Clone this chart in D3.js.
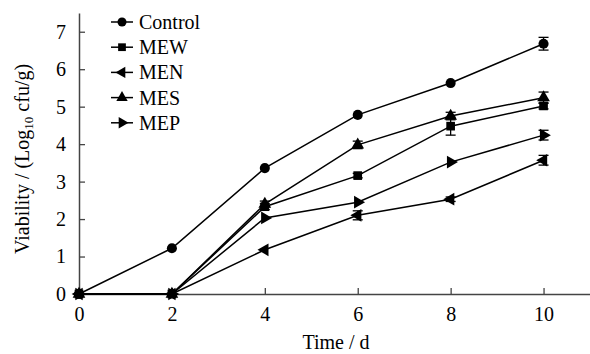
<!DOCTYPE html>
<html>
<head>
<meta charset="utf-8">
<script src="https://cdn.jsdelivr.net/npm/d3@7"></script>
<style>
  html, body { margin: 0; padding: 0; background: #fff; }
</style>
</head>
<body>
<div id="chart"></div>
<script>
// time points (days)
var days = [0, 2, 4, 6, 8, 10];

// viability, log10 cfu/g
var control = [0, 1.22, 3.36, 4.78, 5.63, 6.68];
var mew     = [0, 0, 2.33, 3.16, 4.48, 5.02];
var men     = [0, 0, 1.18, 2.10, 2.53, 3.57];
var mes     = [0, 0, 2.40, 3.98, 4.75, 5.24];
var mep     = [0, 0, 2.03, 2.45, 3.52, 4.24];

// standard deviations
var controlErr = [0, 0.03, 0.04, 0.05, 0.05, 0.17];
var mewErr     = [0, 0, 0.08, 0.06, 0.24, 0.08];
var menErr     = [0, 0, 0.04, 0.12, 0.06, 0.13];
var mesErr     = [0, 0, 0.08, 0.10, 0.10, 0.15];
var mepErr     = [0, 0, 0.05, 0.04, 0.04, 0.13];

var seriesNames = ["Control", "MEW", "MEN", "MES", "MEP"];
var xTicks = [0, 2, 4, 6, 8, 10];
var yTicks = [0, 1, 2, 3, 4, 5, 6, 7];

var FONT = '"Liberation Serif", "Times New Roman", Times, serif';

var series = [
  { name: "Control", values: control, err: controlErr, shape: d3.symbolCircle, rot: 0, size: 80 },
  { name: "MEW", values: mew, err: mewErr, shape: d3.symbolSquare, rot: 0, size: 75 },
  { name: "MEN", values: men, err: menErr, shape: d3.symbolTriangle, rot: -90, size: 70 },
  { name: "MES", values: mes, err: mesErr, shape: d3.symbolTriangle, rot: 0, size: 70 },
  { name: "MEP", values: mep, err: mepErr, shape: d3.symbolTriangle, rot: 90, size: 70 }
];

var W = 590, H = 354;
var margin = { top: 13, right: 0, bottom: 60, left: 79 };
var width = W - margin.left - margin.right;
var height = H - margin.top - margin.bottom;

var svg = d3.select("#chart").append("svg")
  .attr("width", W)
  .attr("height", H);

var g = svg.append("g")
  .attr("transform", "translate(" + margin.left + "," + margin.top + ")");

var x = d3.scaleLinear().domain([0, 11]).range([0, width]);
var y = d3.scaleLinear().domain([0, 7.5]).range([height, 0]);

// axes, ticks pointing inward
var xAxis = g.append("g")
  .attr("transform", "translate(0," + height + ")")
  .call(d3.axisBottom(x).tickValues(xTicks).tickSizeInner(-6).tickSizeOuter(0).tickPadding(10));

var yAxis = g.append("g")
  .call(d3.axisLeft(y).tickValues(yTicks).tickSizeInner(-6).tickSizeOuter(0).tickPadding(13));

[xAxis, yAxis].forEach(function(a) {
  a.attr("font-family", null);
  a.select(".domain").attr("stroke", "#444").attr("stroke-width", 1.5);
  a.selectAll(".tick line").attr("stroke", "#444").attr("stroke-width", 1.3);
  a.selectAll(".tick text")
    .style("font-family", FONT)
    .style("font-size", "20px")
    .attr("fill", "#000");
});
xAxis.selectAll(".tick text").attr("dy", "0.85em");

// axis titles
svg.append("text")
  .attr("x", 336)
  .attr("y", 349)
  .attr("text-anchor", "middle")
  .style("font-family", FONT)
  .style("font-size", "20px")
  .text("Time / d");

var yTitle = svg.append("text")
  .attr("transform", "translate(29,254) rotate(-90)")
  .attr("text-anchor", "start")
  .style("font-family", FONT)
  .style("font-size", "20px");
yTitle.append("tspan").text("Viability / (Log");
yTitle.append("tspan").attr("dy", 4).style("font-size", "13px").text("10");
yTitle.append("tspan").attr("dy", -4).text(" cfu/g)");

var line = d3.line()
  .x(function(d) { return x(d[0]); })
  .y(function(d) { return y(d[1]); });

series.forEach(function(s) {
  var pts = days.map(function(t, i) { return [t, s.values[i], s.err[i]]; });

  g.append("path")
    .datum(pts)
    .attr("fill", "none")
    .attr("stroke", "#000")
    .attr("stroke-width", 1.5)
    .attr("d", line);

  // error bars
  var eb = g.append("g").selectAll("g")
    .data(pts.filter(function(d) { return d[2] > 0.05; }))
    .enter().append("g");
  eb.append("line")
    .attr("x1", function(d) { return x(d[0]); })
    .attr("x2", function(d) { return x(d[0]); })
    .attr("y1", function(d) { return y(d[1] - d[2]); })
    .attr("y2", function(d) { return y(d[1] + d[2]); })
    .attr("stroke", "#000").attr("stroke-width", 1.3);
  [-1, 1].forEach(function(sgn) {
    eb.append("line")
      .attr("x1", function(d) { return x(d[0]) - 5; })
      .attr("x2", function(d) { return x(d[0]) + 5; })
      .attr("y1", function(d) { return y(d[1] + sgn * d[2]); })
      .attr("y2", function(d) { return y(d[1] + sgn * d[2]); })
      .attr("stroke", "#000").attr("stroke-width", 1.3);
  });

  g.append("g").selectAll("path")
    .data(pts)
    .enter().append("path")
    .attr("d", d3.symbol().type(s.shape).size(s.size))
    .attr("transform", function(d) {
      return "translate(" + x(d[0]) + "," + y(d[1]) + ") rotate(" + s.rot + ")";
    })
    .attr("fill", "#000");
});

// legend
var legend = svg.append("g").selectAll("g")
  .data(series)
  .enter().append("g")
  .attr("transform", function(d, i) { return "translate(111," + (22 + i * 25.2) + ")"; });

legend.append("line")
  .attr("x1", 0).attr("x2", 22)
  .attr("stroke", "#000").attr("stroke-width", 1.5);
legend.append("path")
  .attr("d", function(d) { return d3.symbol().type(d.shape).size(d.size * 0.8)(); })
  .attr("transform", function(d) { return "translate(11,0) rotate(" + d.rot + ")"; })
  .attr("fill", "#000");
legend.append("text")
  .attr("x", 28)
  .attr("dy", "0.35em")
  .style("font-family", FONT)
  .style("font-size", "20px")
  .text(function(d, i) { return seriesNames[i]; });
</script>
</body>
</html>
